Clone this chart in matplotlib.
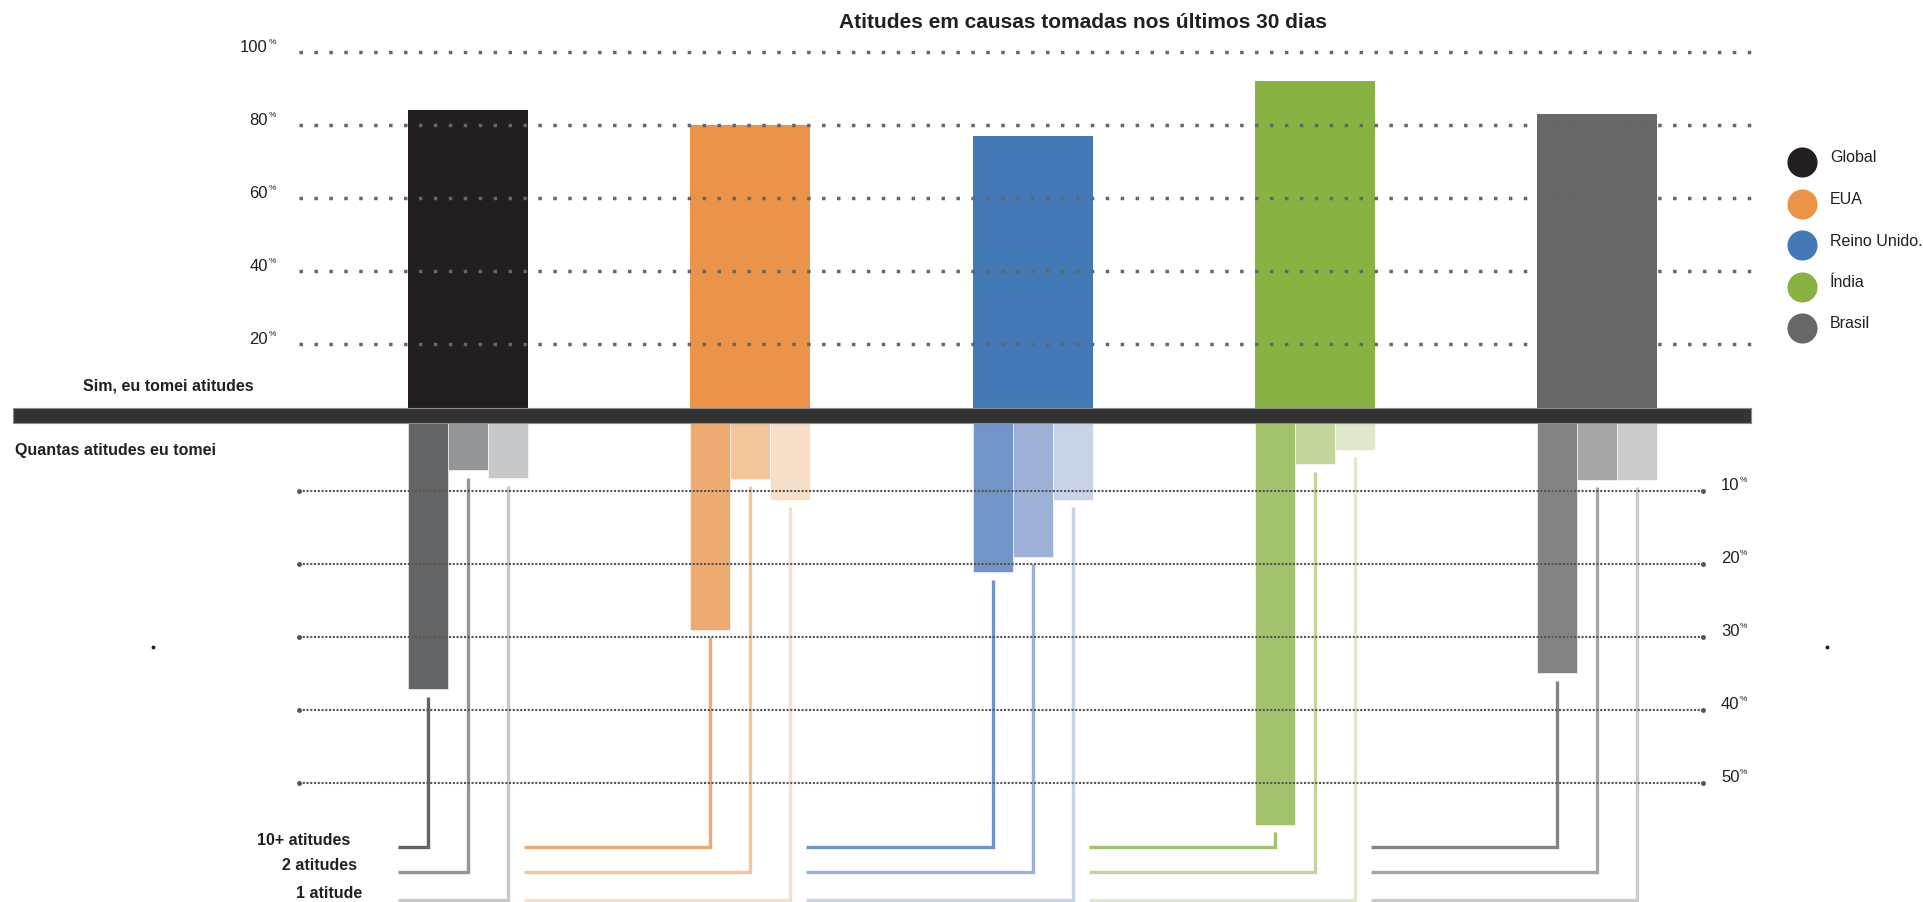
import numpy as np
import matplotlib
matplotlib.use('Agg')
import matplotlib.pyplot as plt
from matplotlib.patches import Rectangle

plt.rcParams['font.family'] = ['Liberation Sans', 'DejaVu Sans']

# Dados da pesquisa (%)
paises = ['Global', 'EUA', 'Reino Unido.', 'Índia', 'Brasil']
sim_tomei = [84, 80, 77, 92, 83]
dez_mais = [37.2, 29.1, 21.2, 55.8, 35.0]
duas = [7.2, 8.4, 19.1, 6.4, 8.5]
uma = [8.3, 11.3, 11.3, 4.4, 8.5]
niveis = ['10+ atitudes', '2 atitudes', '1 atitude']
ticks_sup = [20, 40, 60, 80, 100]
ticks_inf = [10, 20, 30, 40, 50]

cores = ['#231f20', '#ea9349', '#4379b4', '#88b342', '#676767']
cores_inf = [
    ['#636466', '#939598', '#c7c8ca'],
    ['#edab72', '#f2c59b', '#f8e0c8'],
    ['#7294c6', '#9db0d6', '#c9d3e8'],
    ['#a3c26d', '#c3d59d', '#dfe8cb'],
    ['#838383', '#a6a6a6', '#cbcbcb'],
]

# Layout em pixels da figura
W, H = 1923, 902
X0, PASSO = 468, 282.25          # centro do primeiro grupo e distancia entre grupos
BASE_SUP, ESC_SUP = 417.0, 3.65  # linha do 0% e px por % (parte de cima)
BASE_INF, ESC_INF = 417.7, 7.3   # idem parte de baixo


def px_x(p):
    return (p - X0) / PASSO


def px_sup(p):
    return (BASE_SUP - p) / ESC_SUP


def px_inf(p):
    return (p - BASE_INF) / ESC_INF


fig = plt.figure(figsize=(W / 100, H / 100), dpi=100)

ax_sup = fig.add_axes([0, 1 - BASE_SUP / H, 1, BASE_SUP / H])
ax_inf = fig.add_axes([0, 0, 1, (H - BASE_INF) / H])
ax_sup.set_zorder(3)
for ax in (ax_sup, ax_inf):
    ax.set_xlim(px_x(0), px_x(W))
    ax.axis('off')
ax_sup.set_ylim(0, BASE_SUP / ESC_SUP)
ax_inf.set_ylim((H - BASE_INF) / ESC_INF, 0)

x = np.arange(len(paises))
largura = 120 / PASSO
w3 = largura / 3

# Barras de cima: quem tomou atitudes
ax_sup.bar(x, sim_tomei, width=largura, color=cores, zorder=2)
ax_sup.hlines(ticks_sup, px_x(299), px_x(1757), colors='#666666', lw=2.5,
              linestyles=(0, (1, 3.3)), zorder=3)
for t in ticks_sup:
    ax_sup.annotate(str(t), xy=(px_x(268), t), xytext=(0, 3.5), textcoords='offset points',
                    ha='right', va='center', fontsize=12, color='#231f20')
    ax_sup.annotate('%', xy=(px_x(268), t), xytext=(0.5, 7), textcoords='offset points',
                    ha='left', va='center', fontsize=6, color='#231f20')

# Faixa divisoria
ax_sup.add_patch(Rectangle((px_x(13), px_sup(423)), (1751 - 13) / PASSO, 15 / ESC_SUP,
                           facecolor='#333333', edgecolor='#8c8c8c', lw=0.8,
                           clip_on=False, zorder=5))

# Barras de baixo: quantas atitudes
grupos = [dez_mais, duas, uma]
for j, vals in enumerate(grupos):
    ax_inf.bar(x + (j - 1) * w3, vals, width=w3, color=[c[j] for c in cores_inf],
               edgecolor='white', lw=0.4, zorder=2)

ax_inf.hlines(ticks_inf, px_x(299), px_x(1703), colors='#555555', lw=1.5,
              linestyles=(0, (1, 0.8)), zorder=3)
ax_inf.plot([px_x(299)] * len(ticks_inf), ticks_inf, 'o', ms=2.5, color='#555555', zorder=3)
ax_inf.plot([px_x(1703)] * len(ticks_inf), ticks_inf, 'o', ms=2.5, color='#555555', zorder=3)
for t in ticks_inf:
    ax_inf.annotate(str(t), xy=(px_x(1721), t), xytext=(0, 3.5), textcoords='offset points',
                    ha='left', va='center', fontsize=12, color='#231f20')
    ax_inf.annotate('%', xy=(px_x(1721), t), xytext=(13.5, 7), textcoords='offset points',
                    ha='left', va='center', fontsize=6, color='#231f20')

# Linhas guia ate os rotulos
nivel_y = [px_inf(p) for p in (847, 872, 900)]
gap = 1.0
for i in range(len(paises)):
    if i == 0:
        x_esq = x[0] - largura / 2 - 10 / PASSO
    else:
        x_esq = x[i - 1] + largura / 2 - 4 / PASSO
    for j, vals in enumerate(grupos):
        xc = x[i] + (j - 1) * w3
        ax_inf.plot([xc, xc, x_esq], [vals[i] + gap, nivel_y[j], nivel_y[j]],
                    color=cores_inf[i][j], lw=2.4, solid_joinstyle='miter',
                    solid_capstyle='butt', zorder=2)

rot_x = [350, 357, 362]
for j, nome in enumerate(niveis):
    ax_inf.annotate(nome, xy=(px_x(rot_x[j]), nivel_y[j]), xytext=(0, 5), textcoords='offset points',
                    ha='right', va='center', fontsize=11.5, fontweight='bold', color='#231f20')

# pontinhos soltos
ax_inf.plot([px_x(153), px_x(1827)], [px_inf(647)] * 2, 'o', ms=1.8, color='#231f20')

# Legenda: circulos + nomes
for i, (nome, cor) in enumerate(zip(paises, cores)):
    yc = 162 + 41.5 * i
    ax_sup.scatter(px_x(1802), px_sup(yc), s=470, color=cor, linewidths=0, clip_on=False, zorder=4)
    ax_sup.text(px_x(1830), px_sup(yc - 4), nome, ha='left', va='center', fontsize=11.5,
                color='#231f20')

fig.text(1083 / W, 1 - 22 / H, 'Atitudes em causas tomadas nos últimos 30 dias', ha='center',
         va='center', fontsize=15, fontweight='bold', color='#231f20')
fig.text(83 / W, 1 - 386 / H, 'Sim, eu tomei atitudes', ha='left', va='center',
         fontsize=11.5, fontweight='bold', color='#231f20')
fig.text(15 / W, 1 - 450 / H, 'Quantas atitudes eu tomei', ha='left', va='center',
         fontsize=11.5, fontweight='bold', color='#231f20')

plt.savefig('out.png', dpi=100)
